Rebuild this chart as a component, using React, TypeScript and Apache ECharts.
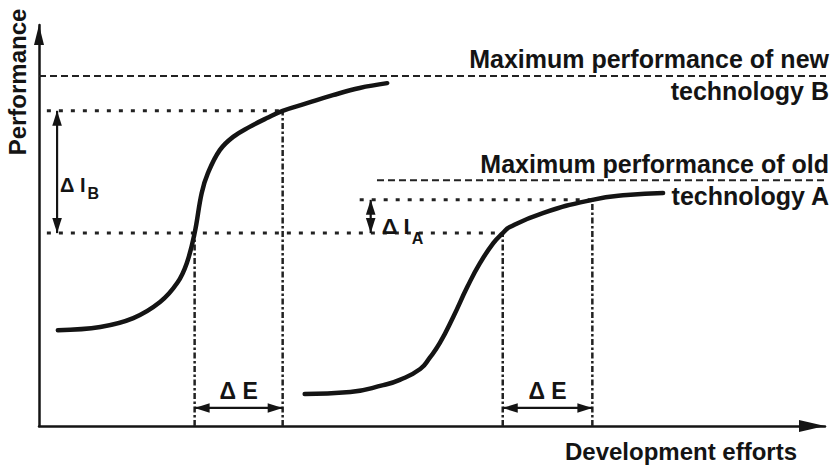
import React, { useEffect, useRef } from 'react';
import * as echarts from 'echarts';

const FONT = '"Liberation Sans", Arial, Helvetica, sans-serif';
const INK = '#141414';
const GUIDE = '#222222';

// S-curves: [development effort, performance]
const curveNew = [
  [2.4, 23.9], [7.8, 24.7], [12.0, 26.9], [15.4, 30.9], [17.6, 35.7], [18.8, 40.6],
  [19.8, 48.1], [20.7, 58.1], [21.5, 63.1], [23.0, 68.8], [24.7, 72.1], [26.8, 74.6],
  [29.0, 76.8], [31.0, 78.6], [34.1, 80.5], [37.4, 82.5], [40.8, 84.3], [44.3, 85.5],
];
const curveOld = [
  [33.8, 8.0], [39.6, 8.5], [43.8, 10.2], [45.9, 11.5], [48.5, 14.2], [49.7, 17.0],
  [51.0, 20.7], [52.7, 27.2], [54.5, 34.7], [56.1, 40.6], [57.8, 45.6], [59.0, 48.1],
  [59.9, 49.6], [64.1, 53.1], [70.4, 56.4], [74.8, 57.6], [79.4, 58.1],
];

// Performance ceilings: technology B, technology A
const maxPerformance = [87.3, 61.3];
// Performance gained (ΔI) for the same extra effort (ΔE)
const gainNew = [48.1, 78.6];
const gainOld = [48.1, 56.4];
// Effort intervals ΔE
const effortNew = [19.8, 31.0];
const effortOld = [59.0, 70.4];
// Effort at which the ΔI arrows stand: B, A
const gainArrowX = [2.3, 42.2];
// Performance level of the ΔE arrows
const effortArrowY = 4.5;
// Where the guide lines begin on the effort axis
const ceilingStartX = [0, 43.0];
const gainLineStartX = [1.0, 1.0, 40.8];
const guideEndX = 100.8;

const labelsNew = ['Maximum performance of new', 'technology B'];
const labelsOld = ['Maximum performance of old', 'technology A'];
const axisNames = ['Performance', 'Development efforts'];
const deltaE = 'Δ E';

const mid = (p: number[]) => (p[0] + p[1]) / 2;

function guide(points: number[][], dash: number[], width = 2) {
  return {
    type: 'line',
    data: points,
    symbol: 'none',
    showSymbol: false,
    clip: false,
    silent: true,
    z: 2,
    lineStyle: { color: GUIDE, width, type: dash },
  };
}

function renderArrow(_params: any, api: any) {
  const a = api.coord([api.value(0), api.value(1)]);
  const b = api.coord([api.value(2), api.value(3)]);
  const dx = b[0] - a[0];
  const dy = b[1] - a[1];
  const len = Math.hypot(dx, dy) || 1;
  const ux = dx / len;
  const uy = dy / len;
  const L = Math.min(15, len / 2 + 1);
  const W = 4.8;
  const head = (tip: number[], sx: number, sy: number) => {
    const bx = tip[0] - sx * L;
    const by = tip[1] - sy * L;
    return {
      type: 'polygon',
      shape: { points: [[tip[0], tip[1]], [bx - sy * W, by + sx * W], [bx + sy * W, by - sx * W]] },
      style: { fill: INK },
    };
  };
  return {
    type: 'group',
    children: [
      { type: 'line', shape: { x1: a[0], y1: a[1], x2: b[0], y2: b[1] }, style: { stroke: INK, lineWidth: 2.2 } },
      head(a, -ux, -uy),
      head(b, ux, uy),
    ],
  };
}

const dashed = [7, 4];
const dotted = [4, 8];
const dashDot = [6, 2.5, 2.5, 2.5];

const deltaRich = (main: number, drop: number) => ({
  m: { fontSize: main, lineHeight: main + 4, verticalAlign: 'top', fontFamily: FONT, fontWeight: 'bold', color: INK },
  s: { fontSize: 16, lineHeight: 20, verticalAlign: 'top', padding: [drop, 0, 0, 2], fontFamily: FONT, fontWeight: 'bold', color: INK },
});

const option: any = {
  animation: false,
  grid: { left: 39, right: 6, top: 25, bottom: 41 },
  xAxis: {
    type: 'value', min: 0, max: 100,
    axisLine: {
      show: true, onZero: false,
      symbol: ['none', 'triangle'], symbolSize: [12, 26], symbolOffset: [0, -13],
      lineStyle: { color: INK, width: 2.5 },
    },
    axisTick: { show: false }, axisLabel: { show: false }, splitLine: { show: false },
  },
  yAxis: {
    type: 'value', min: 0, max: 100,
    axisLine: {
      show: true, onZero: false,
      symbol: ['none', 'triangle'], symbolSize: [10, 20], symbolOffset: [0, -10],
      lineStyle: { color: INK, width: 2.5 },
    },
    axisTick: { show: false }, axisLabel: { show: false }, splitLine: { show: false },
  },
  series: [
    // ceilings
    guide([[ceilingStartX[0], maxPerformance[0]], [guideEndX, maxPerformance[0]]], dashed),
    guide([[ceilingStartX[1], maxPerformance[1]], [guideEndX, maxPerformance[1]]], dashed),
    // performance levels bounding ΔI
    guide([[gainLineStartX[0], gainNew[1]], [effortNew[1], gainNew[1]]], dotted, 3),
    guide([[gainLineStartX[1], gainNew[0]], [effortOld[0], gainNew[0]]], dotted, 3),
    guide([[gainLineStartX[2], gainOld[1]], [effortOld[1], gainOld[1]]], dotted, 3),
    // effort levels bounding ΔE
    guide([[effortNew[0], 0], [effortNew[0], gainNew[0]]], dashDot, 2.5),
    guide([[effortNew[1], 0], [effortNew[1], gainNew[1]]], dashDot, 2.5),
    guide([[effortOld[0], 0], [effortOld[0], gainOld[0]]], dashDot, 2.5),
    guide([[effortOld[1], 0], [effortOld[1], gainOld[1]]], dashDot, 2.5),
    {
      name: 'technology B', type: 'line', data: curveNew, smooth: 0.4, symbol: 'none',
      showSymbol: false, silent: true, z: 4, lineStyle: { color: INK, width: 4.5, cap: 'round' },
    },
    {
      name: 'technology A', type: 'line', data: curveOld, smooth: 0.5, symbol: 'none',
      showSymbol: false, silent: true, z: 4, lineStyle: { color: INK, width: 4.5, cap: 'round' },
    },
    {
      type: 'custom', renderItem: renderArrow, silent: true, z: 5,
      encode: { x: [0, 2], y: [1, 3] },
      data: [
        [gainArrowX[0], gainNew[1], gainArrowX[0], gainNew[0]],
        [gainArrowX[1], gainOld[1], gainArrowX[1], gainOld[0]],
        [effortNew[0], effortArrowY, effortNew[1], effortArrowY],
        [effortOld[0], effortArrowY, effortOld[1], effortArrowY],
      ],
    },
    {
      type: 'scatter', symbolSize: 0, silent: true, z: 6,
      itemStyle: { opacity: 1 },
      label: { show: true, color: INK, fontFamily: FONT, fontWeight: 'bold', opacity: 1 },
      data: [
        {
          value: [gainArrowX[0], mid(gainNew)],
          label: {
            position: 'right', distance: 3, offset: [0, 15],
            formatter: '{m|Δ I}{s|B}', rich: deltaRich(20, 11),
          },
        },
        {
          value: [gainArrowX[1], mid(gainOld)],
          label: {
            position: 'right', distance: 11, offset: [0, 12],
            formatter: '{m|Δ I}{s|A}', rich: deltaRich(22, 15),
          },
        },
        {
          value: [mid(effortNew), effortArrowY],
          label: { position: 'top', distance: 5, formatter: deltaE, fontSize: 23, lineHeight: 24 },
        },
        {
          value: [mid(effortOld), effortArrowY],
          label: { position: 'top', distance: 5, formatter: deltaE, fontSize: 23, lineHeight: 24 },
        },
      ],
    },
  ],
  graphic: [
    {
      type: 'text', x: 17.5, y: 82, rotation: Math.PI / 2, silent: true,
      style: { text: axisNames[0], fill: INK, font: `bold 24px ${FONT}`, textAlign: 'center', textVerticalAlign: 'middle' },
    },
    {
      type: 'text', x: 797, y: 451.5, silent: true,
      style: { text: axisNames[1], fill: INK, font: `bold 24px ${FONT}`, textAlign: 'right', textVerticalAlign: 'middle' },
    },
    {
      type: 'text', x: 829, y: 58.5, silent: true,
      style: { text: labelsNew[0], fill: INK, font: `bold 25px ${FONT}`, textAlign: 'right', textVerticalAlign: 'middle' },
    },
    {
      type: 'text', x: 829, y: 90.5, silent: true,
      style: { text: labelsNew[1], fill: INK, font: `bold 25px ${FONT}`, textAlign: 'right', textVerticalAlign: 'middle' },
    },
    {
      type: 'text', x: 829, y: 163.5, silent: true,
      style: { text: labelsOld[0], fill: INK, font: `bold 25px ${FONT}`, textAlign: 'right', textVerticalAlign: 'middle' },
    },
    {
      type: 'text', x: 829, y: 195.5, silent: true,
      style: { text: labelsOld[1], fill: INK, font: `bold 25px ${FONT}`, textAlign: 'right', textVerticalAlign: 'middle' },
    },
  ],
};

export default function App() {
  const ref = useRef<HTMLDivElement>(null);
  useEffect(() => {
    document.body.style.margin = '0';
    const chart = echarts.init(ref.current as HTMLDivElement, null, { renderer: 'svg' });
    chart.setOption(option);
    return () => chart.dispose();
  }, []);
  return <div ref={ref} style={{ width: 831, height: 467 }} />;
}
